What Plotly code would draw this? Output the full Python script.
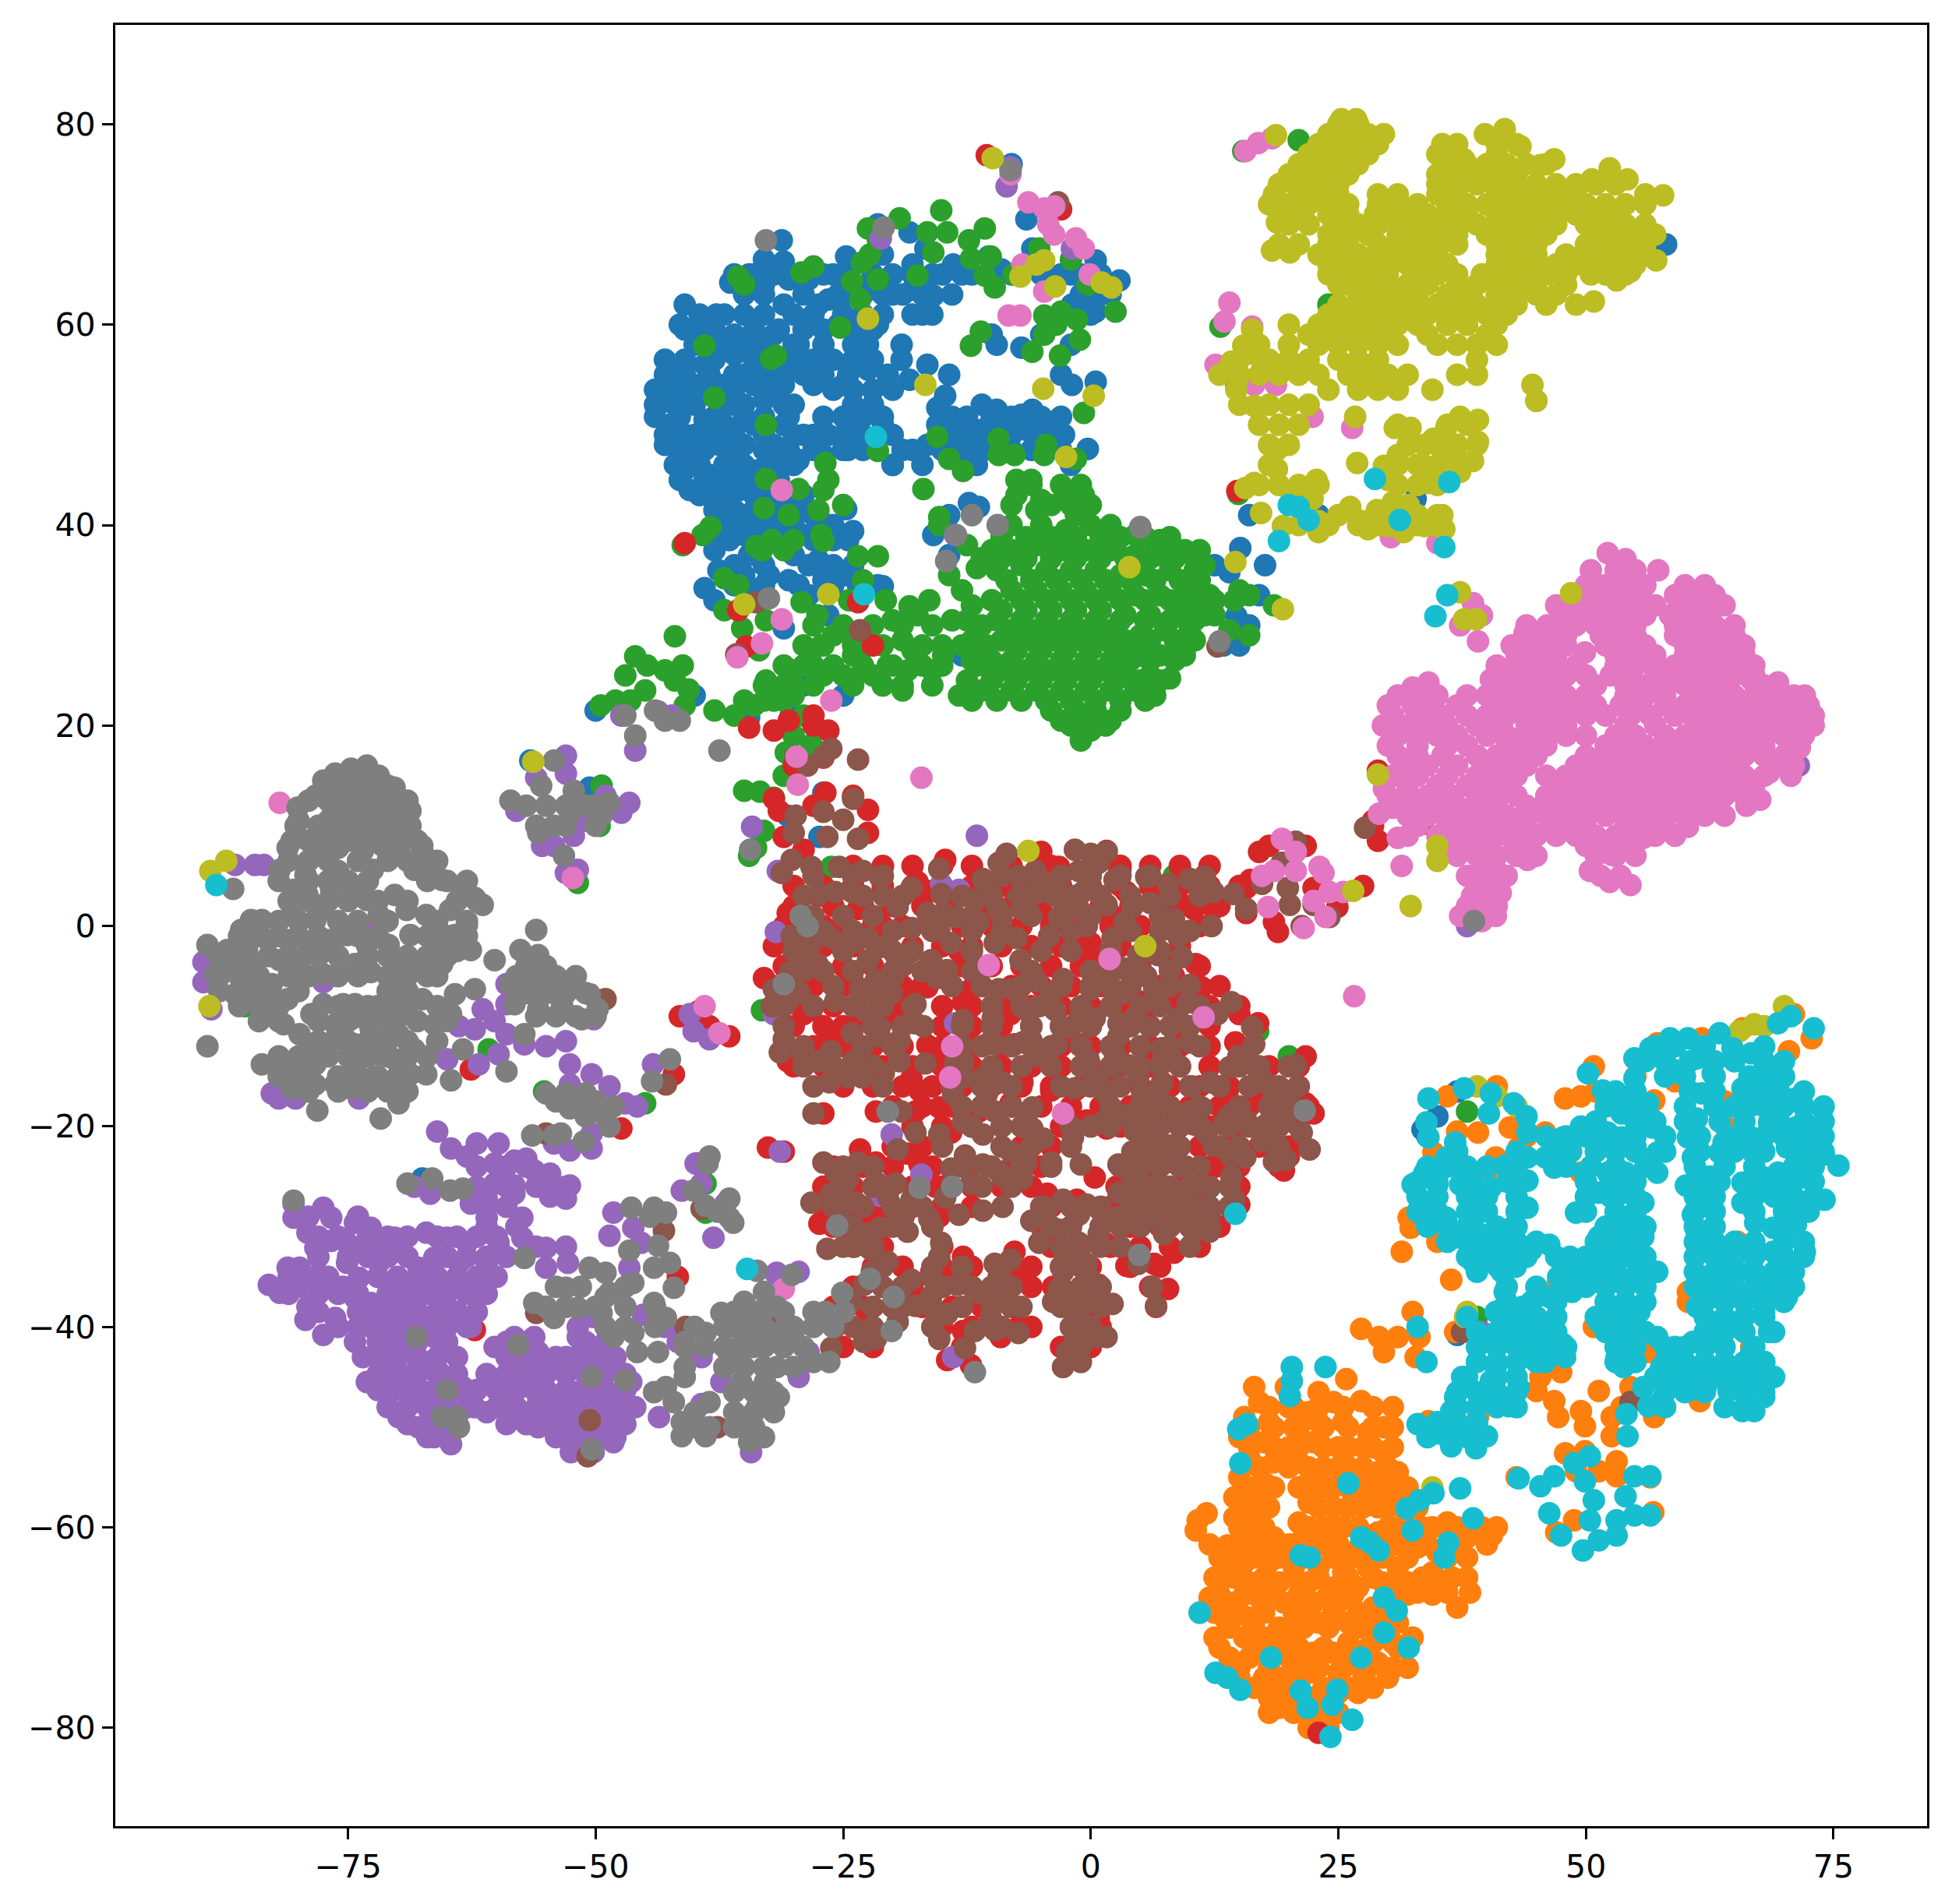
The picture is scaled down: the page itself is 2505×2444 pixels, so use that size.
import plotly.graph_objects as go

colors = ["#1f77b4","#ff7f0e","#2ca02c","#d62728","#9467bd","#8c564b","#e377c2","#7f7f7f","#bcbd22","#17becf"]
x_ticks = [-75,-50,-25,0,25,50,75]
y_ticks = [-80,-60,-40,-20,0,20,40,60,80]

blue = [(-31.2,68.4),(-33,66.5),(-31,66.3),(-34.5,65),(-36.4,64.2),(-33,64),(-30.5,64.5),(-41,62),(-37.8,61),(-41.5,60),(-39.5,59.5),(-36,59),(-33,61),(-31,62),(-32,59),(-29.5,58),(-27.5,62),(-28.5,64.5),(-26,65),(-24.7,66.8),(-26.5,62.5),(-24.5,63),(-22,64),(-20,63),(-18,63.5),(-21.5,70),(-18.3,69.2),(-16.7,67.6),(-13.9,66),(-10.3,66.8),(-5.9,67.6),(0.5,66.4),(2.9,64.4),(0.5,61.3),(-1.9,62),(-17,61),(-15.9,62.9),(-15,65),(-12,65),(-9,65.5),(-7,65),(-18,66),(-21,67),(-23,61),(-25.5,60),(-21.5,60),(-23,58),(-32,56.5),(-29,56),(-36,57),(-39,56),(-35,55),(-42.5,56),(-43,54),(-40,54),(-37,54),(-34,54),(-31,54),(-28,54),(-25,54),(-22.5,55.5),(-20.5,54),(-43.7,52),(-41,52),(-39,50.5),(-36,52),(-33,52.5),(-30,52),(-42.5,50),(-40,49),(-37,50),(-34,50),(-31,50),(-43,48),(-40.5,47),(-37.5,48),(-35,48),(-32,48),(-29,49),(-26.5,49),(-24,50),(-21,50),(-22,48),(-24.5,47.5),(-27,47),(-29.5,46.5),(-41,45.5),(-38.5,45),(-36,46),(-33.5,45.5),(-31,46),(-40.5,43.5),(-38,43),(-35.5,43.5),(-33,43),(-37,41.5),(-35,41),(-33,41),(-30,42),(-28,41),(-24.7,41.6),(-24,39.4),(-26,40),(-37.6,39.4),(-35,39),(-33,39.5),(-38,37.5),(-34.5,37),(-30,37),(-28.5,39),(-37.6,35.5),(-32.5,35),(-30.5,34.5),(-27.5,36.5),(-27,34.5),(-24.7,35),(-21,33.9),(-28.5,33),(-39,33.7),(-38,32.5),(-35,35),(-34.5,33.5),(-31,29.7),(-26.5,31),(-19.1,58),(-19.1,56.5),(-16.5,56),(-14.3,55),(-18.3,54.5),(-14.7,52.9),(-15.5,51.7),(-11,52),(-9.5,51.5),(-7,51),(-5.9,51.5),(-3.5,50.4),(-2.7,49),(-0.3,47.6),(0.5,54.3),(-1.9,54),(-3,55),(-7,57.7),(-9.5,58),(-10,59),(-5,59),(-2,58),(-15.5,50),(-13.5,49.5),(-11,49.5),(-9,49.5),(-6.5,49.5),(-4.5,49),(-16.5,48),(-14,47.5),(-11.5,48),(-19,47.5),(-20,46),(-11.5,46),(-15.9,39),(-14.3,41),(-12.3,42.2),(-11.3,41.8),(-14.3,37),(15.1,37.7),(14,35.3),(17.6,36),(17,33),(14.7,30.9),(13.4,28),(15,28),(16,30),(16,41),(23,41),(32.8,42.6),(58.1,68),(-8,76),(-21.3,69.5),(-6.5,70.5),(-2,65),(-0.5,62.5),(-29,24),(-30.3,21),(-34.5,20.8),(-50,21.5),(-40,23),(-56.6,16.5),(-67.5,-25.2),(-50.6,13.8),(-27,13.3),(-27.4,8.9),(-30.6,11),(3,5.7),(34,-21),(33.5,-20.3),(37,-16.5),(35,-19),(37,-40.8),(12.5,36),(-13,27),(-25,23)]
blue_rows = [(65,[-36,-34,-32,-30,-27,-25,-22,-20,-18,-16,-13,-10,-8,-5,-3,-1,1]),(63,[-35,-33,-29,-25.5,-23,-21,-19,-17,-14,-1,1,2]),(61,[-39.5,-37,-35,-30,-28,-25,-23,-21,-18,-16,0]),(59.5,[-41,-38,-34,-31.5,-29,-27,-24,-22]),(58,[-40,-37.5,-35,-33,-30,-27,-24,-22.5]),(56.5,[-43,-41,-38,-34,-30,-28,-26,-24,-22]),(55,[-43,-41,-38.5,-36,-33,-31,-29,-27,-24.5,-20.5]),(53.5,[-44,-42,-40,-38,-36,-32,-26,-24,-22,-20]),(52,[-44,-42,-40,-37,-35,-31,-24,-22]),(50.8,[-44,-41.5,-38,-35,-33,-30.5,-27,-25,-23,-21,-14,-12.5,-10,-8,-5,-3]),(49,[-43,-41,-38,-36,-33,-30,-28,-25,-23,-20,-14.5,-12,-10,-8,-5.5,-3.5]),(47.5,[-41.5,-39,-36,-33,-30.5,-28,-25,-23,-18,-15,-13,-10,-8,-6,-3]),(46,[-42,-39.5,-37,-35,-32,-30,-20,-17,-2]),(44.5,[-41.5,-39,-37,-35,-33,-31.5]),(43,[-39.5,-37,-34,-31.5,-29]),(41.5,[-38,-36,-34,-31.5,-29.5]),(40,[-38,-36,-34,-32,-30,-26.5]),(38.5,[-36.5,-34,-31.5,-28,-26,-24.5]),(36,[-36,-33,-28.5,-26,-24]),(34,[-36,-33,-29.5,-26,-23.5,-21.5])]

orange = [(50.8,-14),(47.9,-17.2),(49.5,-17),(51,-16.5),(55,-15),(57.2,-11.7),(61.7,-11.2),(65.8,-10.2),(71,-8.8),(72.8,-11.2),(70.5,-12.5),(59,-15.5),(56.9,-17.4),(64,-19.9),(69,-19.5),(64,-17.5),(45.9,-20.6),(42.3,-20.1),(43.2,-22.1),(39.1,-20.6),(40.9,-23.1),(40,-24.4),(34.6,-22.6),(49.5,-24.6),(39.1,-27.6),(32.1,-29.1),(32.3,-30.1),(35,-31.5),(31.4,-32.5),(36.4,-35.3),(47.2,-35.5),(65.3,-31.5),(60.3,-36.5),(60.3,-37.5),(50.8,-40),(56.3,-42.5),(66.7,-42),(61.5,-47.4),(56.9,-49),(27.3,-40.2),(29.1,-41),(29.6,-42.5),(31,-41),(32.5,-38.5),(33.2,-41),(32.8,-43),(36.8,-40.5),(43.2,-39),(47.5,-44.5),(45.4,-45),(45,-46.4),(46.8,-47.4),(47.2,-49),(49.5,-48.4),(49.9,-49.9),(51.3,-46.4),(52.6,-49),(52.6,-50.9),(53.6,-48),(47.9,-52.6),(49.9,-52.4),(53.1,-53.4),(53.1,-54.9),(48.8,-59.3),(56.5,-55),(56.8,-58.5),(54.5,-46),(34.1,-49.4),(39.1,-49),(43,-55),(49,-54.4),(51.3,-54.4),(47,-60.5),(37,-20.5),(36,-17),(41,-16),(44,-21),(16.5,-46),(19.7,-46),(25.8,-45.2),(23,-46.5),(27.3,-47.4),(30.5,-48),(29.6,-50),(17,-47.5),(20,-48),(22,-48.5),(24.5,-47.5),(15.5,-49),(18,-49.5),(20.5,-50),(23,-49.5),(25.5,-49.5),(28,-50.5),(15,-51),(17.5,-51.5),(20,-52),(22.5,-51.5),(25,-52),(27.5,-52),(29.5,-52.5),(16,-53),(18.5,-53.5),(21,-53.5),(23.5,-54),(26,-54),(29,-54.5),(31,-54.5),(15,-55),(17.5,-55.5),(22,-55.5),(24.5,-56),(27,-56),(29,-56.5),(31.5,-56.5),(14.5,-57),(17,-57.5),(22,-57.5),(24.5,-58),(27.5,-58),(31.5,-58),(33,-58),(10.8,-59.3),(11.7,-58.6),(14.5,-59),(16.5,-59.5),(21,-59.5),(23.5,-60),(25.5,-60),(29,-60.5),(31,-60),(33.5,-60),(36,-59.5),(38.5,-60),(41,-60),(10.6,-60.3),(13.8,-61.8),(16,-61.5),(18.5,-61),(21,-61.5),(24,-62),(26,-62.5),(30,-62),(33,-62),(35,-62.5),(38,-61),(40.5,-60.8),(13,-63),(15.5,-63.5),(18,-63.5),(20.5,-64),(23,-64),(25.5,-64.5),(28,-64),(31,-64),(34.5,-64.5),(13.5,-65),(16,-65.5),(19,-65.5),(22,-65.5),(24.5,-66),(27,-66),(29.5,-65.5),(32,-65.5),(35,-65.5),(38,-65),(38.3,-66.5),(12,-67),(14.5,-67.5),(17,-67),(19.5,-67.5),(22.5,-67.5),(25,-67.5),(28.5,-68),(31,-67),(33,-66.5),(36,-66.5),(37,-68),(11,-68.5),(13.5,-69),(16,-69),(21,-69.5),(23,-69.5),(26,-69.5),(28,-70),(31,-69.5),(12.5,-71),(15.5,-71),(18,-71),(20,-70.5),(26,-71.5),(28.5,-71.5),(30.5,-71.5),(32.5,-71),(14,-73),(16,-73),(20,-73),(22.5,-72.5),(24.5,-72.5),(27,-73),(29,-73.5),(32,-74),(15,-75),(17.5,-75),(19.5,-75),(22,-74.5),(25,-74.5),(27.5,-74.5),(30,-75),(18,-77),(20,-77),(22.5,-77),(25,-76.5),(27,-76.5),(18,-78.5),(20.5,-78.5),(23,-78.5),(25,-78.5),(22,-80),(24,-80)]
orange_rows = [(-48,[18,20.5,23,25.5,28.5]),(-50,[16,18.5,21,23.5,26,28.5,30.5]),(-52,[16,18.5,21,23.5,26,28.5,30.5]),(-54,[17,20,22,25,27.5,30]),(-56,[16,18.5,21,23.5,26,28,30,32]),(-58,[15.5,18,23,26,29,30,32.5]),(-60,[15,17.5,22,24.5,27,30,32,34.5,37,39.5]),(-61.7,[12,15,17.5,20,22.5,25,28,31,34,37,40]),(-63,[14,16.5,19,21.5,24.5,27,29.5,32,36,38]),(-65,[12.5,14.5,17.5,20.5,23,26,28.5,31,33.5,36.5]),(-66.7,[13,15.5,18,21,24,26.5,30,32,34.5]),(-68.5,[12.5,15,17.5,20.5,22,24.5,27,29.5]),(-70,[14,16.5,19,21.5,24,27,29.5]),(-72,[13,17,19,21,23.5,26,28,31]),(-74,[15,18,21,23,25.5,28,30.5]),(-76,[16.5,19,21,23.5,26,28.5]),(-78,[19,21.5,24])]

green = [(-19.3,70.6),(-22.5,69.6),(-15.1,71.4),(-16.5,69.2),(-14.5,69.2),(-10.7,69.6),(-12.3,68.4),(-12.1,66.6),(-10.1,66.8),(-15.9,67.2),(-21.5,68.5),(-22.3,67),(-23.1,66.2),(-21.5,64.5),(-24.1,64.3),(-23.3,62.5),(-17.5,64.9),(-28,65.8),(-29.2,65.2),(-35.6,64.8),(-35,64),(-25.3,59.7),(-39,57.9),(-31.8,56.9),(-32.3,56.6),(-38,52.7),(-32.8,50),(-10.7,64.9),(-9.7,63.7),(-7.8,65),(-5.2,67.6),(-2,66.5),(-0.3,64),(2.5,61.3),(-4.7,60.9),(-3,61.3),(-1.4,60.5),(-4.7,59),(-1.1,58.5),(-5.9,57.3),(-3.1,56.9),(-3.5,60),(-11.1,59.3),(-12.1,57.9),(-0.7,51.2),(-15.5,48.8),(-21.5,47.4),(-9.3,48.6),(-7.7,47),(-9.3,47),(-4.7,47),(-4.5,48),(-1.5,46.6),(-14.3,46.6),(-12.9,45.4),(-16.9,43.6),(-7.5,44.5),(-6,44.5),(-7.5,43),(-2.7,43.6),(-0.7,43),(-5,42.5),(-1.5,41),(-15.3,40.8),(-15.3,40),(-26.8,46.2),(-26.5,44.5),(-27,43.5),(-32.8,44.6),(-29.5,43.6),(-33,41.7),(-27.5,41.5),(-30.5,41),(-25,42),(-27.2,39),(-27,38.4),(-30,38.5),(-32.2,38.5),(-31,37.5),(-33.8,37.9),(-33.2,37.5),(-38.4,39.8),(-39.2,39),(-41.2,38),(-23.5,36.9),(-21.5,36.9),(-37,34.7),(-35.6,34),(-23,34.5),(-20.7,32.5),(-20,30.5),(-24.4,32.5),(-29.2,32.3),(-27.6,31),(-32.8,30.5),(-37,31.5),(-35.2,29.7),(-42,28.9),(-33.5,27.5),(-28.4,27.5),(-27.2,28),(-23.2,27.5),(-19,28.5),(-18.3,31.9),(-16.3,32.5),(-17.5,31),(-13,33.5),(-11.5,35.7),(-14.3,35),(-14.9,27),(-41.2,26),(-46,26.9),(-44.8,26),(-43,25.5),(-47,25),(-42,24.5),(-45,23.5),(-40.6,23.6),(-30,25.5),(-32.8,24.5),(-28,26),(-23,25.5),(-25,25),(-27,25),(-18.5,25.5),(-16,25.5),(-19,23.5),(-18,27.5),(-20.5,26),(-49.5,22),(-48,22.5),(-46.5,22.5),(-41,22),(-38,21.5),(-36,21),(-34,22),(-32,22.5),(-31,24),(-30,23),(-29,21),(-35,13.5),(-33.4,13.4),(-32,12.8),(-33,9.5),(-33.8,7.8),(-34.5,7),(-33.2,-8.4),(-26.2,5.9),(-21,5.9),(8.4,5),(20,-13),(16.9,-10.5),(-31,15),(-30.8,17.3),(-28.2,18.1),(-30,19),(-85.4,-8),(-55.2,-16.5),(-60.8,-12.3),(-51.8,4.3),(-49.6,10),(-49.4,14),(-45,-17.7),(-38.9,-25.7),(-38.9,-28.6),(15.4,77.3),(21,78.4),(13.1,59.8),(14.7,53.8),(14.9,43.1),(14,29.5),(16,29),(18.5,32),(15,33.5),(16,33),(38,-18.5),(39,-39),(14.5,32.5),(24,62),(-5.5,41.5),(-8,40),(-5,40),(-2.5,39.5),(0,40),(2,40),(4.5,39),(7,38.5),(-12.5,38),(-10,37.5),(-8,37.5),(-5.5,38),(-3,37.5),(-0.5,37.5),(2,37.5),(4.5,37),(7,37),(9.5,37.5),(11,37.5),(-9.5,35.5),(-7,36),(-4.5,35.5),(-2,35.5),(0.5,35.5),(3,35),(5.5,35),(8,35.5),(10.5,35.5),(11.5,36),(-8,33.5),(-5.5,33.5),(-3,33.5),(-0.5,33.5),(2,33.5),(4.5,33),(7,33),(9.5,33),(12,33),(-12,32),(-9,31.5),(-6.5,31.5),(-4,31.5),(-1.5,31.5),(1,31.5),(3.5,31),(6,31),(9,31),(11.5,31),(12.5,31),(-14,30.5),(-11,30),(-8,29.5),(-5.5,29.5),(-3,29.5),(-0.5,29.5),(2,29.5),(5,29),(7.5,29.5),(10,29.5),(-13,28),(-10.5,28),(-7.5,27.5),(-5,27.5),(-2.5,27.5),(0,27.5),(2.5,27.5),(5,27),(7,27),(9.5,27),(-11.5,26),(-9,25.5),(-6.5,25.5),(-4,25.5),(-1.5,25.5),(1,25.5),(3.5,25),(6,25),(8,24.7),(-13.3,23),(-11,23.5),(-8,23.5),(-5.5,23.5),(-3,23.5),(-0.5,23.5),(2,23.5),(4.5,23.5),(6.5,23),(-4,21.5),(-1.5,21.5),(0.5,21.5),(3,21.5),(-2,20),(0,19.5),(1.5,20),(-1,18.5),(-24,27),(-22,25),(-21,24),(-26,29),(-24,29)]
green_rows = [(44,[-6,-3,-1]),(42,[-8,-4,-2,0]),(38.8,[-9,-6.5,-4,-1.5,1,3,5.5,8]),(36.7,[-11,-9,-6.5,-4,-1.5,1,3.5,6,8.5,10.5]),(34.5,[-8.5,-6,-3.5,-1,1.5,4,6.5,9,11]),(32.5,[-10,-7,-4.5,-2,0.5,3,5.5,8,10.5,12.5]),(30.5,[-12.5,-9.5,-7,-4.5,-2,0.5,3,5.5,8,10.5]),(28.5,[-12,-9,-6.5,-4,-1.5,1,3.5,6,8.5,10.5]),(26.5,[-12,-10,-8,-5.5,-3,-0.5,2,4,6,8.5]),(24.5,[-12.5,-10,-7.5,-5,-2.5,0,2.5,5,7]),(22.5,[-12,-9.5,-7,-4.5,-2,0.5,3,5.5]),(20.5,[-3,-0.5,2]),(30,[-28,-25,-22,-19,-16]),(28,[-29,-27,-24,-21,-17,-15]),(26,[-31,-29,-26,-23,-20,-17,-15]),(24,[-33,-30,-28,-24,-21,-19,-16]),(22.5,[-35,-33,-31])]

red = [(-26.8,13.3),(-22.5,11.6),(-24,13),(-22.5,9.3),(-31,8.9),(-29,7.6),(-32,12.7),(-30.6,1.3),(-27.5,3),(-21.7,0.9),(-23.5,1.7),(-21,0),(-16.5,3.5),(-14.7,6.6),(-17.5,4.4),(-8,4),(-13.3,-2.5),(-9.7,0.5),(-9,-0.5),(-5,7.4),(-3.2,5.9),(1.6,7.5),(2.8,6),(3.6,3.4),(1.9,1.3),(-1.2,-2.1),(0,-2.9),(1,-4.4),(6.8,2.5),(8.8,2.5),(10.4,1.7),(12.4,1.7),(11.5,5),(9.4,5),(10.6,-3.8),(8.4,-5),(11.2,-6.1),(8.8,-7.6),(8,-7.6),(15,-8.8),(16.9,-9.7),(14.6,-11.6),(21.7,-13),(13.8,-16.6),(17.2,-16.8),(22.5,-18.7),(21.7,-17.7),(20,-23),(19.5,-24.4),(12.6,-24),(14.9,-26.1),(15,-27.8),(0.4,-25.1),(4.8,-23.5),(5.6,-21.5),(2.6,-26),(-4.4,-26.7),(-1.4,-27.3),(1.4,-31.6),(8.4,-32.6),(3.6,-33.9),(6.4,-33.7),(7.8,-36.2),(6.6,-38),(-3.8,-36),(-2.2,-33),(0.8,-35.8),(0.8,-39.1),(-7.1,-35.2),(-6.7,-34.5),(-7.7,-32.5),(-12.9,-33),(-14.1,-35.3),(-16.1,-34.5),(-12.1,-34),(-8.9,-35.8),(-12.9,-40.4),(-7.3,-40),(-9.1,-41),(-14.5,-43.3),(-12.1,-43.8),(-21.7,-18.5),(-27,-18.7),(-17.7,-18.5),(-18.5,-22.7),(-23.3,-22.3),(-21.7,-23.6),(-21.5,-28.8),(-15.7,-26),(-17.3,-23.8),(-15.3,-29),(-27.4,-29.7),(-24.1,-30.5),(-32.6,-22.1),(-31,-22.5),(-16.5,-11.9),(-16.1,-12.8),(-18.1,-15.2),(-17.3,-16.4),(-21.3,-15.6),(-15.3,-18.1),(-14.1,-20.6),(-11.3,-18.5),(-8.1,-17.7),(-6.9,-15.6),(-4,-16.4),(-1.6,-16.4),(-0.4,-19.4),(1.6,-20.2),(-5.5,-21.5),(-8.1,-8.8),(-7.7,-11.8),(-1.2,-11.8),(-12.9,-7.6),(-12.1,-6.3),(-16.5,-6.1),(-18.1,-7.2),(-19.7,-9.2),(-28.2,-8.4),(-29,-8.8),(-26.6,-10.5),(-25,-10),(-25.8,-11.8),(-23.3,-13.5),(-30.6,-13.5),(-29.8,-13.9),(-22.1,-15.6),(-33,-5.2),(-30.6,-4),(-23,-6.3),(-24.1,-5),(0,-1.7),(-1.6,-1.3),(2.4,-6.7),(-5.3,1.7),(4.8,-7.5),(17,7.4),(21.7,8),(15.7,3.8),(15.7,1.3),(18.9,-0.6),(18.5,0.4),(22.5,3.8),(24.9,1.9),(16.1,4.6),(18,8),(27.5,4),(-38.5,-10),(-36.5,-11),(-41.5,-9),(-39.6,-8.5),(-47.4,-20.2),(-62.2,-40.3),(-62.6,-14.3),(-41.7,-35),(-42.1,-14.8),(-39.7,-23.7),(-10.5,76.9),(-41,38.2),(-23.5,32.3),(-35.6,31.5),(-34.8,27.9),(-22,28),(14.8,43.4),(-32,19.5),(-30.5,20.5),(-28,20),(-28,21),(-26.5,19.5),(-34.5,19.8),(-30,16),(-31.5,11.5),(-27,16.8),(-28,12),(29,15.5),(28.5,10.5),(29,8.5),(28.5,10),(33.5,10.2),(36,10.5),(36.5,9.5),(46,12.5),(41,-38.5),(38,-40.3),(40,-40.8),(23,-80.5),(-3,71.5)]
red_rows = [(6,[-24,-21,-18,-15,-12,-8,-4,0,3,6,9,12]),(4,[-30,-27,-24,-21,-18,-15,-12,-9,-6,-3,0,3,6,9,12,15]),(2,[-30,-26,-23,-20,-17,-14,-11,-8,-5,-2,1,4,7,10,13]),(0,[-31,-27,-25,-22,-19,-16,-13,-10,-7,-4,-1,2,5,8,11]),(-2,[-32,-27,-24,-21,-18,-15,-12,-9,-6,-3,0,3,6,9]),(-4,[-31,-28,-25,-22,-19,-16,-13,-10,-7,-4,-1,2,5,8,11]),(-6,[-32,-28,-25,-22,-19,-17,-14,-11,-8,-5,-2,1,4,7,10,13]),(-8,[-32,-29,-26,-23,-20,-15,-12,-9,-6,-3,0,3,6,9,12,15]),(-10,[-30,-27,-24,-19,-15,-12,-9,-6,-3,0,3,6,9,12]),(-12,[-31,-28,-25,-22,-19,-15,-12,-9,-6,-3,0,3,6,9,12,15]),(-14,[-30,-27,-24,-21,-18,-15,-12,-9,-6,-3,0,3,6,9,12,18,21]),(-16,[-25,-22,-19,-16,-13,-10,-7,-4,-1,2,5,8,11,14,18,21]),(-18,[-20,-17,-14,-11,-8,-5,-2,1,4,7,10,13,16,19,22]),(-20,[-18,-15,-12,-9,-3,3,6,9,12,15,18,21]),(-22,[-20,-17,-7,-4,5,8,11,14,17,20]),(-24,[-26,-23,-20,-16,-12,-8,-5,3,6,9,12,15,19]),(-26,[-27,-24,-21,-18,-15,-12,-9,-6,3,6,9,12,15]),(-28,[-27,-24,-21,-18,-15,-12,-4,-1,2,5,8,11,14]),(-30,[-26,-23,-19,-16,-5,-2,1,4,7,10,13]),(-32,[-24,-21,-15,-4,-1,2,5,8,11]),(-34,[-22,-19,-15,-12,-9,-6,-3,0,4,7]),(-36,[-24,-21,-18,-15,-12,-9,-6,-3,0,6]),(-38,[-26,-23,-20,-17,-14,-11,-8,-2,1]),(-40,[-26,-23,-15,-12,-9,-6,-2,1]),(-42,[-25,-22,-13,-3,0])]

purple = [(-80.5,-27.7),(-77.5,-28.1),(-76.7,-29.1),(-80.5,-29.1),(-79.1,-30.6),(-78.3,-32.1),(-76.7,-31.4),(-74.3,-29.6),(-72.7,-30.1),(-70.3,-31.1),(-75.1,-31.6),(-73.5,-32.1),(-71.5,-32.6),(-69.5,-32.6),(-67.1,-30.6),(-65,-31.1),(-63,-31.6),(-59.8,-31.6),(-61,-33.6),(-63.8,-33.6),(-66.3,-33.1),(-67.9,-34.1),(-71.9,-33.6),(-75.1,-33.6),(-73.9,-35.1),(-75.5,-36),(-77.9,-34.8),(-79.9,-34.1),(-81.1,-34.1),(-83,-35.8),(-81.9,-36.6),(-79.9,-36),(-79.1,-38),(-79.3,-39.3),(-77.5,-40.8),(-76.3,-39.1),(-74.3,-37.1),(-72.7,-37.6),(-70.3,-35.6),(-68.3,-36),(-66.3,-35.6),(-64.2,-36.1),(-61.8,-36.6),(-70.7,-38),(-68.3,-38.1),(-65.5,-38.1),(-62.6,-40),(-72.7,-40),(-70.7,-40),(-68,-40),(-66.3,-41),(-74.3,-41.5),(-73.5,-43),(-71.1,-43),(-69.5,-42.5),(-66.7,-43.5),(-73.1,-45.5),(-70.7,-44.5),(-68.3,-44.5),(-65.8,-44.5),(-70.7,-46.5),(-68.7,-47),(-67.1,-46.5),(-69.9,-49),(-67.9,-50),(-66.3,-51),(-64.6,-51.7),(-65.5,-49),(-63.4,-46),(-62.2,-48),(-61,-48.5),(-60.2,-46),(-58.2,-49),(-59,-46.5),(-56.6,-46),(-58.2,-44.5),(-54.6,-44),(-55.8,-47),(-55.8,-50),(-53.8,-48),(-51.8,-46.5),(-51.4,-49),(-53,-51),(-49.4,-46.5),(-49,-49),(-47.4,-48),(-46.4,-45.5),(-48.2,-51.5),(-50.2,-52.5),(-52.5,-52.5),(-50.6,-43),(-53,-43),(-51.8,-41),(-49,-44),(-60.2,-42),(-58.2,-41),(-56.2,-41),(-55.8,-42.5),(-57,-43.5),(-66,-20.5),(-64.6,-22.2),(-63,-23),(-62,-21.7),(-59.8,-21.7),(-60.2,-23.7),(-58.2,-23.4),(-57,-23.2),(-56.2,-24.4),(-54.6,-24.7),(-54.2,-26.2),(-52.6,-25.9),(-53,-27.2),(-55.4,-25.9),(-54.6,-27),(-60.2,-25.7),(-58.2,-25.9),(-58.2,-26.7),(-61,-27.2),(-62.6,-27.7),(-61,-29.1),(-61,-30.6),(-66.7,-26.7),(-68.3,-26),(-57.4,-29.1),(-57.4,-31.1),(-57.2,-33.1),(-55,-32.1),(-55,-34.1),(-52.8,-33.6),(-48.2,-28.6),(-48.6,-30.9),(-46.2,-30.1),(-45.4,-31.6),(-46.6,-34.1),(-38.1,-31.1),(-36.9,-27.7),(-41.3,-26.4),(-39.3,-25.7),(-39.9,-23.7),(-45.2,-38.8),(-43,-40),(-41.7,-41.5),(-39.3,-43),(-37.3,-45.5),(-39.3,-47.7),(-43.6,-49),(-34.1,-38.6),(-31.7,-34.6),(-34.3,-52.5),(-50.2,-39),(-51.8,-40),(-53,17),(-56,14.8),(-53,15.2),(-46.6,12.3),(-47.4,11.3),(-49,13),(-51,10.5),(-58,11.5),(-55.4,8),(-52.2,9),(-54.2,8),(-53,5.3),(-51.8,5.6),(-84.4,6.1),(-83.5,6.1),(-86.4,6.1),(-89.6,-3.6),(-89.6,-5.6),(-88.8,-8.3),(-82.7,-16.7),(-80.3,-17.2),(-82,-17.2),(-73.9,-17.2),(-77.5,-5.6),(-76.7,-5),(-72.9,-0.4),(-59,-5.8),(-59,-7.8),(-61.4,-8.3),(-60.2,-9.5),(-63.8,-10),(-62.2,-10.3),(-59,-10.8),(-57.2,-11.8),(-55,-12),(-53,-11.5),(-50.2,-9.3),(-65,-13.3),(-61.8,-13.8),(-59.8,-12.8),(-52.6,-13.8),(-52.6,-15.8),(-50.4,-14.8),(-48.6,-16),(-47,-17.7),(-45.8,-18),(-50.4,-20.7),(-50.4,-22.2),(-52.6,-22.4),(-54.2,-21.7),(-44.2,-13.8),(-40.5,-8.8),(-38.5,-11.3),(-40.1,-10.5),(-47.4,21),(-46,17.5),(-43.7,21.4),(-42.3,21),(-8.1,75.7),(-8.5,73.8),(-21.2,68.6),(-1.9,67.6),(-13.7,39),(-11.5,9),(-34.2,9.9),(-31.8,-0.6),(-31.6,5.5),(-13.3,3.6),(-15.1,4.2),(-20.1,-20.8),(-32,-8.8),(-13.7,-9.7),(-31.4,-22.5),(-21.3,-26.9),(-17.1,-24.8),(-13.9,-43),(-29.5,-34.5),(-31.8,-34.7),(71.5,16),(38,0),(39.5,-40.5),(-29.5,-45),(-28.5,-42.5)]
purple_rows = [(-29,[-79,-74]),(-31,[-78,-76,-73,-71,-69,-66,-64,-62,-60]),(-33,[-78,-75,-73,-71,-69,-65,-63,-61,-59]),(-35,[-81,-79,-77,-72,-70,-68,-66,-64,-62,-60]),(-36.7,[-81,-78,-76,-74,-71,-69,-67,-65,-63,-61]),(-38.5,[-78,-74,-72,-70,-68,-66,-64,-62]),(-40,[-76,-74,-71,-69,-67,-65,-63]),(-41.5,[-72,-70,-68,-65,-59,-57,-51,-49]),(-43,[-72,-70,-68,-66,-64,-59,-56,-54,-52,-50,-48]),(-44.7,[-72,-70,-68,-66,-64,-61,-59,-57,-55,-53,-51,-49,-47]),(-46.3,[-72,-69,-66,-64,-62,-60,-58,-55,-53,-51,-49,-47]),(-48,[-71,-69,-67,-65,-63,-60,-58,-56,-54,-52,-50,-48,-46]),(-49.7,[-69,-67,-65,-59,-57,-55,-53,-51,-49,-47]),(-51,[-67,-65,-54,-52,-50,-48]),(-24,[-62,-59,-57]),(-26,[-62,-59,-56,-53]),(-28,[-61,-59]),(-30,[-61,-58]),(-32,[-56,-53])]

brown = [(-29.8,16.9),(-28.6,16),(-27,16.9),(-26.2,17.7),(-23.5,16.6),(-24,12.7),(-27,11.4),(-25,10.6),(-29.8,11),(-30,9.3),(-26.6,8.9),(-23.5,8.7),(-30.2,6.6),(-28.2,5.9),(-31.2,5.3),(-25.4,5.9),(-23,5.5),(-21.3,4.9),(-27.4,3.2),(-25.8,3.4),(-24.1,3.4),(-20.9,3),(-19.5,1.9),(-18.1,3.8),(-15.3,5.7),(-15.1,3.2),(-14.9,1.3),(-11.7,2.6),(-10.9,4.7),(-9.3,6.3),(-8.5,7.2),(-7.3,5),(-5.6,5.5),(-4.4,4.2),(-7.3,3),(-4.8,3.4),(-3.6,3),(-1.6,7.6),(0,7.2),(1.6,7.4),(-1.2,5.5),(0.8,6.3),(2.4,4.6),(-0.8,3.4),(1.6,2.1),(-1.2,1.7),(-0.4,0),(-3.2,0.9),(-4.2,-1),(-7,1.7),(-9.5,1.9),(5.6,4.9),(7.8,4.2),(10,4.7),(11.5,4.9),(12.4,3.4),(14.4,3.2),(12.2,0),(15.7,1.7),(6,2.3),(4.2,1.9),(3.4,0.4),(8.4,0.7),(8.8,-1),(9.2,-3.1),(2.2,-1.2),(4.8,-2.9),(6.8,-2.9),(3.2,-4.2),(5.6,-5),(6.4,-6.3),(3.2,-6.7),(0.8,-5.5),(0,-6.3),(10,-5.9),(9.8,-7.6),(14.2,-7.6),(12.8,-8.8),(16.3,-10.1),(8.8,-9.2),(6,-10.1),(10,-11.6),(7.2,-12.2),(8.2,-13.2),(7,-13.9),(-18.1,-0.2),(-16.5,1.3),(-13.7,0.9),(-11.3,0.4),(-15.3,-0.4),(-14.1,-1.7),(-16.1,-3.4),(-14.5,-4.4),(-15.5,-5.2),(-9.7,-1.7),(-7.5,-1.2),(-7.1,-3.4),(-11.3,-4.4),(-9.3,-6.3),(-7.9,-6.3),(-30.2,-1),(-28.2,-1.7),(-26.2,-1.2),(-24.1,-1.7),(-22.5,-1.2),(-21.3,-2.1),(-28.8,-3.1),(-27.6,-3.8),(-22.5,-3.4),(-19.7,-2.9),(-18.9,-3.8),(-19.9,-5),(-21.7,-5.4),(-23.3,-6.3),(-22.1,-7.1),(-20.1,-6.7),(-22.9,-8.4),(-21.1,-8),(-25.8,-7.5),(-30.4,-4.6),(-32,-6.3),(-29.4,-6.7),(-32.2,-8),(-30.6,-7.5),(-17.7,-7.8),(-17.7,-9.7),(-16.9,-10),(-21.3,-10.1),(-21.3,-11),(-19.3,-11.4),(-24.1,-10.7),(-12.9,-9.4),(-9.9,-9.2),(-10.5,-11.8),(-9.7,-11.8),(-5.5,-5.5),(-2.8,-5.3),(-4,-6.7),(-5.2,-8),(-6.5,-8.4),(-3.6,-8.4),(-1.2,-9.2),(-2,-10.1),(0.4,-9.2),(2.8,-9.7),(2.8,-11),(4.4,-9.2),(-6.9,-11.6),(-5.7,-13),(-3.4,-11.8),(-6,-11.4),(-0.2,-13.4),(2.4,-12.6),(3.8,-13.9),(4.8,-15.1),(0.8,-15.3),(1.6,-16.8),(5.2,-16.8),(7.2,-15.6),(-31,-11.3),(-31.4,-12.6),(-29.2,-12.6),(-27.6,-13.5),(-26.2,-12.5),(-24,-13.5),(-26.4,-15.6),(-24.5,-15.1),(-23.1,-15.1),(-20.9,-14.7),(-19.3,-13.5),(-16.7,-13.7),(-12.9,-13.5),(-13.9,-16.8),(-12.9,-15.1),(-13.7,-13.7),(-10.9,-15.1),(-8.9,-15.6),(-10.5,-16.8),(-9.7,-18.5),(-12.9,-19.6),(-10.9,-20.8),(-15.3,-20.8),(-17.7,-20.6),(-19.5,-22.3),(-19.1,-18.5),(-28,-18.7),(-1.6,-16.2),(-5.9,-18.1),(-6.5,-19.2),(-5.9,-20.2),(-4.8,-21.2),(-1.8,-21.1),(0,-20),(1.2,-19.6),(3.4,-18.9),(4.4,-20.4),(6.8,-17.7),(8.4,-18.9),(10,-18.5),(11.2,-18.1),(10.4,-19.8),(6,-19.4),(6.4,-21.1),(12,-15.6),(10.2,-16),(14,-14.1),(14.9,-13),(16.5,-11.8),(16.5,-13.9),(17.6,-15.6),(20.7,-13.9),(20.9,-16),(18.5,-16.8),(20.1,-17.7),(14,-18.9),(15.7,-19.4),(17.7,-19.8),(19.7,-19.4),(17.3,-21.5),(21.3,-20.6),(22.1,-22.3),(12.4,-21.9),(14.2,-23),(15.6,-23.1),(18.5,-23.5),(19.7,-23.3),(13.4,-19.8),(11.6,-20.6),(8,-21.9),(4.2,-22.5),(6.4,-23.2),(8.4,-23.6),(2.8,-23.8),(4.8,-24.9),(6.8,-25.7),(9.6,-24),(10.8,-26.1),(14.2,-25),(14.5,-27.3),(12,-26.1),(9.6,-27.4),(7.2,-27.8),(4.8,-27.4),(2.8,-26.6),(12,-30.5),(10.4,-30.5),(7.4,-30.7),(8.4,-29),(12,-28.8),(10.8,-29.2),(7,-29.5),(4.8,-29.5),(2.8,-29),(0.8,-28.2),(-0.4,-27.8),(-1.2,-28.8),(-2.8,-27.3),(-4.4,-28.2),(-6,-29.4),(-5.2,-31.6),(-3.2,-30.3),(-1.2,-31.6),(0.8,-30.7),(-1.6,-33),(-0.4,-33.7),(0,-35.3),(-2.8,-34.5),(-3.2,-36.2),(-3.8,-37.5),(-1.6,-37),(0.4,-37.5),(2.2,-37.7),(-1.2,-39.1),(0.6,-41),(-1.6,-41),(1.6,-41),(-2.4,-42.5),(-2.8,-44),(-1,-43.5),(6.2,-36),(6.6,-37.9),(4.8,-33.7),(-27,-23.6),(-25.8,-24.5),(-23.5,-23.6),(-24.5,-25.2),(-21.5,-25.7),(-19.7,-25.7),(-26.2,-26.7),(-28.2,-27.6),(-23.7,-27.6),(-25,-28.2),(-20.5,-27),(-18.1,-27.3),(-18.9,-29),(-14.7,-27.1),(-16.3,-29.2),(-18.5,-30.5),(-13.3,-28.8),(-12.7,-22.9),(-14.1,-24.2),(-10.9,-23.8),(-9.3,-24.5),(-12.1,-25.7),(-8.9,-25),(-6.9,-25.2),(-8.1,-22.5),(-6.5,-23.6),(-4,-23.6),(-1,-23.8),(-10.9,-28.4),(-8.9,-28),(-21.3,-30.1),(-22.5,-30.7),(-23.9,-32),(-26.6,-32.2),(-22.3,-32.2),(-15.1,-31.6),(-15.3,-33),(-20.5,-33.5),(-22.1,-34.5),(-18.1,-35.3),(-16.1,-35),(-13.5,-35.8),(-9.7,-33.7),(-8.1,-33.3),(-9.3,-35),(-11.3,-36.6),(-14.5,-38.7),(-16.1,-36.9),(-17.7,-37.9),(-9.3,-37),(-8.1,-37.9),(-10.1,-39.1),(-11.7,-40.4),(-9.7,-40.3),(-7.3,-40.6),(-12.7,-42.1),(-15.3,-41.2),(-20.1,-37.9),(-21.7,-41.2),(-22.9,-41.5),(-22.9,-35.8),(-24.1,-37.5),(-27.4,-39.5),(-25.8,-40),(-26.2,-42.1),(-19.5,-39.5),(20.7,8.4),(19.3,6.3),(19.9,3.8),(20.1,2.1),(21.3,0),(15.7,1.7),(22.5,2.1),(24.1,0.9),(17.3,4.2),(-40.9,-40),(-40.1,-49.5),(-37.7,-50),(-43.1,-30.4),(-42.9,-15.8),(-49,-7.3),(-56,-38.6),(-55,-20.7),(-39.3,-28.2),(-50.6,-49.3),(-50.8,-52.9),(-3.3,72.2),(-23.3,29.5),(-33.8,32.3),(-35.8,27.1),(12.8,27.9),(27.7,9.8),(36,9.9),(46.5,12),(54.5,-47.5),(37.5,-40.5),(-20,-38),(-31.5,-39),(-32,-41)]
brown_rows = [(5,[-28,-24,-21,-9,-6,-3,0,3,6]),(3,[-29,-23,-19,-13,-10,-6,-2,1,4,8,11]),(1,[-28,-25,-22,-12,-9,-6,-3,0,7]),(-0.5,[-27,-24,-20,-16,-12,-9,-2,4,7,10]),(-2.5,[-30,-25,-20,-18,-12,-5,-2,2,7]),(-4.5,[-29,-27,-24,-20,-17,-12,-6,0,2,5,8]),(-6,[-30,-26,-22,-14,-11,-7,-3,0,2,4,8]),(-8,[-31,-28,-24,-21,-18,-10,-7,-4,-1,2,5,7,11]),(-10,[-31,-22,-19,-13,-10,-6,-3,0,4,8,10]),(-12,[-29,-23,-20,-13,-11,-8,-4,-1,2,5,8,11]),(-14,[-29,-26,-22,-13,-10,-7,-4,-1,2,5,9,15,17,20]),(-16,[-28,-21,-14,-11,-8,-3,0,3,7,10,13,16,19]),(-18,[-13,-11,-8,2,5,8,11,15,18,20]),(-20,[-12,-9,-7,-2,2,5,7,9,11,14,16,19]),(-22,[-15,-9,-6,-2,5,7,9,13,15,19]),(-24,[-25,-22,-13,-10,-7,-4,3,5,7,9,11]),(-26,[-25,-22,-14,-11,-8,4,6,8,10,12,14]),(-28,[-26,-23,-20,-17,-5,-2,1,4,6,8,10,12,14]),(-30,[-24,-20,-16,-4,-2,1,3,5,8,10,12]),(-32,[-25,-22,-3,-1,1,3,10]),(-34,[-21,-16,-13,-9,-3,-1]),(-36,[-21,-19,-15,-12,-10,-8,-3,-1,1]),(-38,[-25,-22,-19,-16,-13,-10,-7,-3,-1,1]),(-40,[-24,-22,-16,-9,-2,0]),(-42,[-1])]

pink = [(-81.9,12.3),(-52.3,4.8),(-10.3,-3.9),(1.9,-3.3),(11.4,-9.1),(-14,-12),(-14.2,-15.1),(-2.8,-18.7),(-17.1,14.8),(26.6,-7),(-29.7,16.9),(-29.6,14.1),(-26.2,22.5),(-31.2,30.6),(-33.2,28.2),(-35.7,26.8),(-31.2,43.5),(-39,-8),(-37.5,-10.7),(-31,-36.2),(-6.3,72.2),(-4.7,71.6),(-3.7,71.8),(-4.3,70),(-3.7,69),(-1.5,68.6),(-0.7,67.6),(-0.1,65),(-6.9,66),(-4.7,63.3),(-8.3,60.9),(-7.1,60.9),(-8.1,75),(19.3,8.7),(20.7,7.4),(20.7,5.5),(17.3,5),(18.5,5.5),(23.1,5.9),(23.5,5.3),(22.5,2.5),(24.1,3.4),(25.5,3.4),(17.9,1.9),(21.5,-0.2),(23.7,0.9),(14,62.2),(13.5,60.3),(16.3,59.8),(12.6,56),(14.5,56.3),(18.7,54),(16.5,54),(22.4,50.8),(26.4,49.7),(15.6,77.3),(16.9,78.1),(18.3,78.6),(30.3,38.8),(35,38.2),(45,52.4),(38.6,32.2),(39.1,28.4),(37.3,30),(39.5,31),(52.2,37.2),(54,36.6),(57.3,35.5),(47.7,31.7),(46.1,30),(43.8,29.2),(49.9,27.3),(32.5,23.8),(34.1,24.3),(40.4,24.6),(63.5,23.8),(66.7,24.6),(69.4,24.3),(72.1,23),(70.3,21.9),(72.8,20.2),(71.6,17.8),(70.7,15),(68.5,15.3),(29.6,13.7),(29.1,11.2),(30.5,11.8),(63.5,11.5),(66.2,12),(67.6,12.6),(46.3,9.9),(60.3,9.9),(31,8.8),(39.1,7.6),(42.7,7.6),(55.8,8.8),(52.6,7.1),(31.4,6),(44.1,6.6),(50.4,5.5),(52.4,4.4),(54.5,4.1),(39.5,3.8),(41.4,3.3),(37.3,1),(39.5,0.5),(40.9,1)]
pink_rows = [(35.5,[50.5,53,55]),(34,[50,52,54,56,60,62]),(33,[49.5,51.5,53.5,55.5,59,61,63]),(32,[47,49,51,53,55,57,60,62,64]),(31,[50,52,54,56,58.5,60.5,62.5]),(30,[44,47,49,51,53,55,59,61,63,65]),(29,[46,48,51.5,53.5,55,59,61,63,65]),(28,[42.5,44.5,46.5,48,52,54,56,60,62,64,66]),(27,[43,45,47,53,55,57,60,62,64,66]),(26,[41,43,45,47,49,53,55,57,59,61,63,65,67]),(25,[42,44,46,48,50,52.5,54.5,57,59,61,63,65,67]),(24,[41,43,45,47,51,54,56,58,60,62,64,68]),(23,[31,33,35,38,40,42,44,46,48,50,54,56,58,61,63,65,67,69,71]),(22,[30,32.5,34.5,37,41,43,45,47,49,51,53.5,55.5,58,60,62,64,66,68,70,72.5]),(21,[30.5,33,35.5,38,40,42,44,46,48,50,52,54.5,56.5,59,61,63,65,67,69,71,73]),(20,[29.5,31.5,34,36,39,41.5,44,46,48,54,57,61,63,65,67,69,71,73]),(19,[31,33,35,37,40,42,44,46,48,50,53,55,58,60,62,64,66,68,70,72]),(18,[30,33,36,38,42,44,46,52,54,56,58,60,62,64,66,68,71]),(17,[31,33,35.5,39,41,43,45,50,52,54,56,58,60,62,64,66,68,70]),(16,[32,34,37,40,42,44,49,51,53,55,57,59,61,63,65,69,71]),(15,[30.5,33,36,39,41,43,46,48,50,52,54,56,58,60,62,64,66,68]),(14,[32,35,38,40,42,47,49,51,53,55,57,59,61,63,65,67]),(13,[30,32,34,36.5,39,41,43,46,48,50,52,54,56,58,60,62,64,66]),(12,[33,35,37,39,41,44,46,48,50,52,54,56,58,60,62]),(11,[32,34,36,38,40,42,44,46,48,50,52,54,56,58,60,62,64]),(10,[33,36,38,40,42,44,48,50,54,56,58]),(9,[32,35,37,39,41,43,45,47,49,51,53,55,57,59]),(8,[36,38,40,44,50,52,54]),(7,[37,39,41,43,45,51,53,55]),(5.5,[39.5,41]),(5,[38,40,42,51.5,53.5]),(3,[38.5,40.5]),(2,[38,40,41])]

gray = [(-73.1,16),(-74.7,15.7),(-76.3,15.2),(-77.5,14.5),(-71.9,15),(-70.3,13.8),(-78.3,13),(-80.1,11.8),(-68.7,11.5),(-80.3,10),(-68.7,10),(-80.7,8.5),(-75.5,13.5),(-73.5,13.5),(-71.5,13),(-76.5,11.5),(-74.5,11.5),(-72.5,11.5),(-70.5,11.5),(-78,10),(-76,9.5),(-74,9.5),(-72,9.5),(-70,9.5),(-78,8),(-76,7.8),(-73.5,7.5),(-71.5,8),(-69.9,7.6),(-67.5,8),(-67.1,6.8),(-68.3,5.6),(-66.7,5.1),(-65.5,4.6),(-63.4,4.1),(-64.7,1.6),(-62.2,2.8),(-61.4,2.1),(-63,0.1),(-64.2,-0.9),(-62.6,-2.4),(-66.3,-1.4),(-65.5,-3.8),(-67.9,-4.3),(-67.1,1.1),(-68.7,-0.9),(-69.1,1.6),(-70.3,3.1),(-71.9,1.1),(-70.9,-1.9),(-73.1,2.6),(-74.3,3.6),(-72.5,5.6),(-76.7,3.6),(-76,5.5),(-79.3,5.1),(-81.9,5.6),(-81.1,7.8),(-79.1,3.1),(-80.5,3.6),(-77.5,1.6),(-78.3,0.6),(-80.7,1.1),(-75.1,-0.9),(-73.1,-1.9),(-77.1,-1.4),(-79.1,-1.9),(-81.1,-1.4),(-83.1,-1.4),(-81.9,-3.4),(-79.9,-3.8),(-77.5,-4.8),(-74.3,-3.8),(-72.7,-4.6),(-70.3,-4.3),(-70,-5.5),(-70.3,-6.8),(-67.5,-7.3),(-69.1,-8.8),(-70.7,-9.3),(-72.7,-10.3),(-74.7,-9.3),(-76.3,-9.8),(-78.7,-8.8),(-77.5,-7.8),(-75.5,-7.8),(-74.3,-7.8),(-76.3,-11.3),(-74.3,-11.8),(-72.3,-11.3),(-69.9,-10.8),(-68.3,-12.3),(-71.9,-12.8),(-70.3,-13.3),(-68.7,-14.8),(-67.1,-14.8),(-70.7,-16.2),(-69.9,-17.7),(-71.7,-19.2),(-72.7,-15.2),(-74.3,-14.3),(-74.7,-16.2),(-76.3,-15.8),(-78.3,-15.8),(-78.1,-18.4),(-80.7,-16.2),(-80.3,-14.3),(-83.7,-13.8),(-82,-14),(-78.3,-13.8),(-78.9,-12.3),(-79.9,-10.8),(-81.5,-9.8),(-83.5,-8.8),(-81.1,-7.3),(-84.4,-6.8),(-86.4,-6.8),(-82.7,-5.8),(-84.4,-3.8),(-86.4,-4.3),(-88.4,-4.8),(-85.2,-2.4),(-87.2,-2.4),(-85.8,-0.4),(-84.8,0.6),(-83.7,0.6),(-89.2,-1.9),(-89.2,-12),(-86.6,3.7),(-70.3,-9),(-72,-8),(-66,-5),(-64,-2.5),(-69,-3),(-58.6,12.5),(-55.5,14),(-54.2,16.5),(-55,12),(-52.2,13.5),(-52.6,11.3),(-50.2,12),(-48.6,12.3),(-49.4,11),(-55.8,9.3),(-54.2,10),(-53.2,7),(-56,-0.4),(-57.6,-2.4),(-55.8,-2.9),(-58.6,-5.8),(-56.2,-5.8),(-54.2,-5.3),(-52.6,-5.8),(-50.6,-6.8),(-58.2,-7.8),(-55.8,-8.3),(-53.4,-7.8),(-51.4,-9.3),(-49.8,-8.3),(-57.2,-10.8),(-60.2,-3.4),(-62.2,-6.3),(-64.2,-6.8),(-64.6,-8.8),(-66.3,-9.8),(-63.4,-12.3),(-64.6,-15.4),(-59,-14.5),(-55,-16.7),(-53,-16.7),(-51,-16.7),(-52.6,-18.2),(-50.2,-18.5),(-48.2,-18),(-48.6,-20),(-56.4,-20.9),(-54.2,-20.9),(-53.5,-20.7),(-51.2,-21.5),(-44.3,-15.5),(-42.5,-13.3),(-80.5,-27.4),(-69,-25.7),(-66.5,-25.2),(-64.7,-26.4),(-63.4,-26.2),(-57.2,-33.1),(-68.1,-41),(-57.8,-41.8),(-65,-46.3),(-65.5,-49),(-63.8,-50),(-64,-49),(-50.4,-45),(-47,-45.3),(-50.4,-52.2),(-56.2,-37.6),(-54.2,-39.1),(-51.8,-38.1),(-53,-36.1),(-50.6,-34.1),(-49,-34.6),(-51.5,-36),(-48.6,-36.6),(-46.2,-35.6),(-49.4,-38.6),(-48.2,-41),(-46.2,-40.6),(-45.8,-42.5),(-43.7,-42.5),(-44.1,-37.6),(-42.9,-39.1),(-42.1,-36.1),(-42.5,-33.6),(-43.7,-31.9),(-46.6,-32.4),(-44.1,-34.1),(-46.4,-28.1),(-44.1,-28.1),(-42.9,-28.6),(-44.5,-29),(-40.1,-26.4),(-38.7,-23.7),(-38.5,-23),(-38.9,-27.9),(-36.5,-27.2),(-36.5,-29.1),(-36.1,-29.6),(-37.7,-28.5),(-33.7,-34.4),(-37.3,-38.6),(-41,-41.5),(-38.9,-40.6),(-36.1,-40),(-33.3,-39),(-31.7,-38),(-41,-45),(-36.5,-43),(-34.1,-42),(-32.1,-41.5),(-42.9,-46),(-44.1,-46.5),(-42.1,-47.5),(-41.3,-49.5),(-41.3,-50.9),(-38.5,-47.5),(-38.9,-50.9),(-35.3,-45.5),(-32.9,-45.5),(-33.7,-48),(-35.3,-49.5),(-34.5,-51.5),(-33,-51),(-31.7,-44),(-31.2,-40.4),(-30,-40.5),(-28,-43.5),(-26.4,-43.5),(-32.6,-37.9),(-26.8,-38.5),(-24.9,-38.5),(-25.1,-36.6),(-22.3,-35.2),(-19.9,-37),(-20.1,-40.4),(-11.7,-44.5),(-30.2,-34.8),(4.9,-32.8),(21.6,-18.4),(-25.6,-29.9),(-17.3,-26.1),(-20.5,-18.5),(-31,-5.8),(-29.3,1),(-28.6,0),(-34.4,7.6),(-34,-40),(-33,-36.5),(-35,-37.5),(-32.5,-46.5),(-35.5,-42),(-31.5,-47),(-8.1,75.4),(-20.9,69.7),(-32.8,68.4),(-12,41),(-9.4,40),(-13.6,39),(-14.6,36.4),(5,39.8),(13,28.4),(-32.5,32.7),(38.7,0.5),(-47,21),(-44,21.5),(-43,20.5),(-41.5,20.5),(-46,19),(-37.5,17.5),(-14,-26)]
gray_rows = [(15,[-75,-73]),(14,[-77,-75,-73,-71]),(12.5,[-79,-77,-75,-73,-71,-69]),(10.5,[-80,-77,-75,-73,-71,-69]),(8.5,[-79,-77,-75,-73,-70,-68]),(6.5,[-81,-79,-77,-74,-71,-69,-66]),(4.5,[-82,-79,-77,-75,-73,-67,-65,-63]),(2.5,[-81,-79,-77,-75,-72,-69,-64,-62]),(0.5,[-82,-80,-76,-74,-71,-66,-63]),(-1,[-86,-84,-82,-80,-78,-76,-74,-72,-67,-65,-63]),(-3,[-88,-86,-83,-81,-78,-76,-73,-71,-69,-67,-65]),(-5,[-88,-86,-84,-81,-79,-76,-74,-71,-69,-67]),(-6.5,[-88,-85,-83,-80,-71,-69]),(-8,[-86,-84,-82,-76,-73,-71,-69,-66]),(-9.5,[-84,-82,-78,-75,-73,-71,-68,-65]),(-11.5,[-78,-75,-73,-71,-69,-66]),(-13,[-82,-80,-77,-75,-73,-71,-69,-67]),(-15,[-82,-79,-76,-74,-72,-70]),(-16.5,[-79,-76,-73,-71,-69]),(-5,[-58,-56,-54,-52]),(-6.7,[-57,-55,-53,-51]),(-9,[-56,-54,-52,-50]),(-4,[-57,-55]),(12,[-57,-53,-51,-49]),(10,[-56,-53,-50]),(-17.5,[-54,-52,-50]),(-19,[-51,-49]),(-36,[-54,-47]),(-38,[-55,-53,-50,-47,-44]),(-40,[-49,-47,-44]),(-37,[-49]),(-42,[-41,-39,-37,-35,-33,-31,-29]),(-44,[-41,-37,-35,-33,-30]),(-40,[-40,-37,-35,-33,-30,-28,-26]),(-38.5,[-36,-34,-31,-28]),(-46.5,[-36,-34,-32]),(-48.5,[-40,-36,-34,-32]),(-50,[-40,-38.5,-36,-34])]

olive = [(-89,-8),(-88.9,5.5),(-87.3,6.5),(-56.3,16.4),(-6.3,7.5),(5.5,-2),(32.3,2),(26.5,3.5),(29,15.1),(48.5,33.2),(3.9,35.8),(14.6,36.3),(19.4,31.6),(-35,32.1),(-26.5,33.1),(-22.5,60.6),(-16.7,54),(-2.5,46.8),(0.3,52.9),(-4.8,53.6),(-7.1,64.8),(-5.5,66),(-4.7,66.4),(-3.6,63.8),(1.1,64.2),(2.1,63.7),(-9.9,76.6),(37.3,33.3),(37.7,30.6),(38.9,30.6),(35,6.5),(35,8),(70,-8),(67,-9.8),(68,-10),(65.5,-10.5),(37.8,-39),(39,-16),(41,-17),(43,-18),(57.5,-12),(34.5,-56),(38,-38.5),(18.7,78.9),(41.8,79.5),(39.8,79),(43.4,77.8),(46.8,76.5),(45.4,75.9),(37.7,76.5),(52.4,75.6),(54.2,74.5),(50.6,74.5),(57.8,72.9),(18.8,70.2),(18.3,67.4),(20.1,67.2),(57.1,66.4),(47.9,64.2),(50.8,62.3),(53.1,64.4),(54.5,65.3),(16.3,59.5),(15.4,57.9),(14.2,56.3),(16.9,56.8),(44.6,54),(45,52.4),(14.7,53.5),(16.5,51.9),(18.8,47.5),(18.8,45.6),(16.5,44.2),(15.6,43.7),(20.3,42.9),(22.8,44.5),(22.4,42.6),(17.2,41.2),(19.4,39.9),(23,40.4),(23,39.3),(26.7,50.8),(26.9,46.2),(30.7,49.7),(32.3,49.7),(33.7,48),(34.6,48.6),(31,47),(29.6,45.9),(30,44.5),(33.7,45.9),(34.1,44.2),(35.9,49.7),(37.3,50.8),(39.1,50.5),(36.8,47.5),(39.1,48.3),(38.6,46.4),(37.3,45.3),(35.9,47),(26.2,41.8),(27.3,40.4),(28.9,41.5),(30.5,42.3),(32.1,42),(28,39.6),(30,39.9),(31.6,39.3),(33.7,39.9),(35.5,41),(35.7,39.6)]
olive_rows = [(80.5,[25.3,26.8]),(80,[25,27]),(79,[24,26,28,29.6]),(78,[23,25,27,29,35.5,37,41,43]),(77,[22,24,26,28,35,36.4,41]),(76,[21,23,25,27,36,38,40,42,44,46]),(75,[20,22,24,26,35,37,39,41,43]),(74,[19,21,23,25,35,37,39,41,43,45,47,49,51,53]),(73,[18.5,21,23,25,29,31,35,37,41,43,45,47,49,56]),(72,[18,20,22,24,26,29,31,33,36,38,40,42,44,46,48,50,52,54,56]),(71,[19,21,24,26,28.7,30,32,34,36,38,41,43,45,47,49,51,53]),(70,[20,22,25,27,29,31,33,35,37,39,41,43,45,47,50,52,54,56]),(69,[24,26,28,31,33,35,37,40,42,44,46,51,53,55,57]),(68,[19,21,24,26,29,31,33,35,37,41,43,45,50,52,54,56]),(67,[23,25,27,29,31,33,35,41,43,45,48,50,52,54,56]),(66,[24,26,28,30,32,34,36,41,43,45,47,49,51,53,55]),(65,[24,26,28,30,33,35,37,39.5,42,44,46,48,50.5,52,54]),(64,[25,26,28,30,32,34,37,39,41,43,45,48]),(63,[27,29,31,33,36,38,41,43,45,47]),(62,[25,27,29,31,33,35,37,39,41,43,46,49]),(61,[24,26,28,30,32,34,36,38,40,42]),(60,[20,23,25,27,29,31,33,36,38,41]),(59,[22,24,26,28,30,34,40]),(58,[17,20,23,25,27,29,31,35,37,39,41]),(56.5,[15,18,20,22,25,27,29,39]),(55,[13,15,17,19,21,23,26,28,30,32,37,39]),(53.5,[24,27,29,31,34.5]),(52,[15,18,20,22]),(50,[17,19,21,31,36,38]),(48,[18,20,32,35,37,39]),(46,[18,31,33,35,37]),(44,[17,19,21,23,31,33,35]),(41,[25,29,31,33,35]),(40,[21,24,27,29,31,33,34.5])]

cyan = [(-88.3,4.1),(-21.7,48.8),(-22.9,33.1),(-34.7,-34.2),(14.6,-28.7),(28.7,44.6),(36.2,44.3),(31.2,40.5),(20,42),(21,41.8),(22,40.5),(19,38.4),(35.7,37.8),(36,33),(34.8,30.9),(73,-10.2),(70.7,-9),(69.4,-9.7),(63.5,-10.7),(64.8,-12.2),(66.7,-12.7),(69.4,-14.2),(58.5,-11.2),(60.3,-11.2),(56.5,-12.2),(54.9,-13.2),(54.9,-15.2),(59,-14.4),(61.2,-13.2),(62.8,-14.7),(61.7,-16.7),(61.2,-19.2),(65.8,-16.2),(68.5,-16.2),(66.7,-17.9),(71.2,-17.2),(73.9,-18.2),(73.4,-20.6),(71.2,-20.1),(68.5,-19.6),(66.7,-21.1),(63.9,-21.6),(60.3,-21.1),(60.8,-23.1),(63.5,-22.6),(66.9,-22.6),(70.3,-22.1),(73,-22.1),(75.5,-23.9),(74,-22.8),(69.4,-24.6),(72.1,-25.1),(74.1,-27.3),(68,-25.1),(65.8,-25.6),(62.5,-25),(60.1,-25.9),(62.1,-27.1),(65.8,-27.6),(60.8,-28.8),(72.1,-28.1),(70.3,-27),(68.9,-26.5),(71.2,-29.8),(67.1,-29.6),(68.9,-30.1),(62.8,-30.1),(61.2,-30.6),(61.7,-32.5),(63.9,-33),(66.7,-32),(68.9,-32.5),(72.1,-32.5),(70.7,-34.5),(66.7,-34.5),(64.8,-35),(61.7,-35),(68.9,-35.5),(70.3,-37),(63,-37),(65.8,-37),(61.2,-38),(68,-38.5),(63.5,-39.5),(65.5,-39.5),(68.5,-40.5),(62.6,-41.5),(60.8,-41.5),(59,-42),(66.7,-42.5),(64.8,-44),(68,-43.5),(57.6,-44),(59.9,-44.4),(62.1,-44.4),(68.9,-45),(66,-45.5),(64.4,-46.4),(62.1,-46),(59,-45),(57.6,-47.4),(56.3,-47.9),(68,-47),(65.8,-48.4),(67,-48.4),(60.3,-46.4),(55,-22),(57.2,-22.6),(56.7,-20.1),(56.3,-17.7),(53.1,-17.7),(51.7,-16.4),(53.6,-18.7),(53.6,-21.1),(52.2,-20.6),(49.5,-20),(47.7,-21.1),(45.9,-23.1),(44.1,-23.1),(41.8,-23.9),(46.8,-24.1),(49.9,-24.6),(52.2,-24.6),(54,-24.6),(57.2,-24.6),(51.3,-26.6),(54,-26.6),(55.8,-27.6),(49,-28.6),(54.9,-29.1),(51.3,-31),(53.6,-30.6),(55.8,-31),(53.1,-32.5),(55.8,-33),(57.2,-34.5),(54.9,-35),(52.2,-34.5),(49.9,-35.5),(47.2,-35),(48.6,-36.5),(46.3,-37),(45,-37),(53.1,-38),(55.4,-38.5),(51.3,-39.5),(54,-40.5),(57.2,-41),(53.1,-43),(53.8,-44),(48.4,-33),(44.1,-20.6),(44.1,-25.4),(44.1,-28.1),(42.5,-30.1),(40.4,-26.1),(37.3,-25.8),(39.1,-28.6),(39.1,-30.6),(37.3,-31.1),(40.4,-32),(38.6,-33.5),(41.1,-34),(42.9,-34),(44.5,-32.3),(46.3,-31.8),(35.9,-23.1),(36.8,-21.6),(37.3,-24.1),(35,-25.8),(33.7,-24.6),(32.5,-25.8),(33.7,-28.1),(33.9,-29.6),(35.9,-29.1),(34.1,-17.2),(33.9,-19.6),(34.1,-21.1),(37.7,-16.2),(40.4,-16.7),(42.7,-17.7),(40.2,-18.7),(50.2,-14.7),(44,-19),(38,-39),(40.9,-38.5),(41.8,-36.5),(43.6,-38),(43.6,-40),(45.9,-40),(40.2,-41.5),(42.7,-41.7),(45,-42),(47.7,-41.7),(47.9,-43),(45.9,-43.5),(40.9,-44),(37.5,-45),(40.4,-45.4),(43.2,-46),(36.8,-47),(39.5,-47),(42.2,-47.9),(36.4,-48.4),(33,-49.7),(35,-50.6),(36.4,-51.9),(38.9,-52.1),(40,-50.9),(33,-40),(33.9,-43.5),(54.1,-48.7),(54.2,-50.9),(55.8,-46),(43.2,-55.1),(45.4,-55.9),(46.8,-54.9),(50.4,-52.9),(48.8,-53.6),(49.9,-55.4),(50.8,-57.3),(54.9,-54.9),(56.5,-54.9),(54,-56.9),(54.9,-58.8),(56.5,-58.8),(46.3,-58.6),(47.5,-60.8),(50.4,-59.3),(53.1,-59.3),(53.1,-60.8),(51.3,-61.3),(49.7,-62.3),(20.3,-44),(20.3,-45.4),(20.1,-46.9),(23.7,-44),(15.8,-49.7),(14.9,-50.2),(15.1,-53.6),(26,-55.6),(34.6,-56.6),(37.3,-56.1),(33.2,-57.3),(31.9,-58.1),(38.6,-59.1),(32.5,-60.3),(36.1,-61.5),(35.7,-63),(27.3,-61),(28.2,-61.5),(29.1,-62.3),(21.2,-62.8),(22.1,-63),(29.6,-67),(30.9,-68.3),(11,-68.5),(29.6,-70.5),(32.1,-72),(27.3,-73),(18.2,-73),(12.6,-74.5),(13.8,-75),(15.1,-76.2),(21.2,-76.3),(21.9,-78),(24.9,-76.2),(24.4,-77.7),(26.4,-79.2),(24.2,-80.9)]
cyan_rows = [(-12,[57,59,62,68]),(-13.5,[56,58,60.5,63,65,68,70]),(-15,[58,60,63,66.5,68,70]),(-16.5,[53,55,60.5,63,67,69.5,72]),(-18,[52,54,56,60,63,65,68,70,72,74]),(-19.5,[51,55,57,60,63.5,66,69.5,72,74]),(-21,[46,48,50,51.5,55,58,61.5,65,68,70,72,74]),(-22.5,[37,43,46.5,48.5,51,53,55,58,61.5,65,68,71.5,74]),(-24,[34,36,38,40,43,48,50.5,53,56,61,64,67,71,73]),(-25.5,[33,35,38.5,42,50,52.5,55,61,63.5,67,70.5,73]),(-27,[33,35,38,40,43,50,52.5,55,61,63,67,69,71,73]),(-28.5,[33,35,38,40,43,50,53,55,61,63,67,70,72.5]),(-30,[34,36,38,41,43,52,54,56,61,63,69.5]),(-31.5,[36,38.5,41,43,45,51,53,55,61,63,65,67,70,72]),(-33,[38,40,42,44,47,50,52,54,56,61,63,65,67,70,72]),(-34.5,[39,41.5,48.5,50.5,53,55.5,61,63,65,67,69,71]),(-36,[42,45,48,50,52,54,56,61,63,65,67,69,71]),(-37.5,[42,44.5,47,52,54,56,62,64,66,68,70]),(-39,[42,45,47,51,53,55,62,64,66,68]),(-40.5,[39,41,43,45,47,52,54,56,62,64,66,69]),(-42,[39,41,44,46,48,53,55,58,60,62,64,67]),(-43.5,[39,41,43,45,53,55,58,60,62,64,66,68]),(-45,[38,41,43,57,59,61,63,65,67,69]),(-46.5,[37,39,41,43,58,60,62,66,68]),(-48,[37,39,41,43,58,64,66]),(-49.5,[35,37,39]),(-51,[34,36,38])]

def expand(rows):
    return [(x, y) for y, xs in rows for x in xs]

classes = [blue + expand(blue_rows), orange + expand(orange_rows), green + expand(green_rows), red + expand(red_rows),
           purple + expand(purple_rows), brown + expand(brown_rows), pink + expand(pink_rows), gray + expand(gray_rows),
           olive + expand(olive_rows), cyan + expand(cyan_rows)]

fig = go.Figure()
for pts, col in zip(classes, colors):
    fig.add_trace(go.Scatter(x=[p[0] for p in pts], y=[p[1] for p in pts], mode="markers",
                             marker=dict(color=col, size=29, line=dict(width=0)), showlegend=False, hoverinfo="skip"))

axis_style = dict(showgrid=False, zeroline=False, showline=True, mirror=True, linecolor="black", linewidth=3.3,
                  ticks="outside", ticklen=14, tickwidth=3.3, tickcolor="black",
                  tickfont=dict(family="DejaVu Sans", size=41, color="black"))
fig.update_layout(width=2505, height=2444, paper_bgcolor="white", plot_bgcolor="white", showlegend=False,
                  margin=dict(l=148, r=32, t=32, b=100),
                  xaxis=dict(range=[-98.5, 84.45], tickvals=x_ticks, **axis_style),
                  yaxis=dict(range=[-89.8, 89.9], tickvals=y_ticks, **axis_style))
fig.write_html("out.html", config={"displayModeBar": False},
               post_script="document.body.style.margin='0';document.documentElement.style.overflow='hidden';")
